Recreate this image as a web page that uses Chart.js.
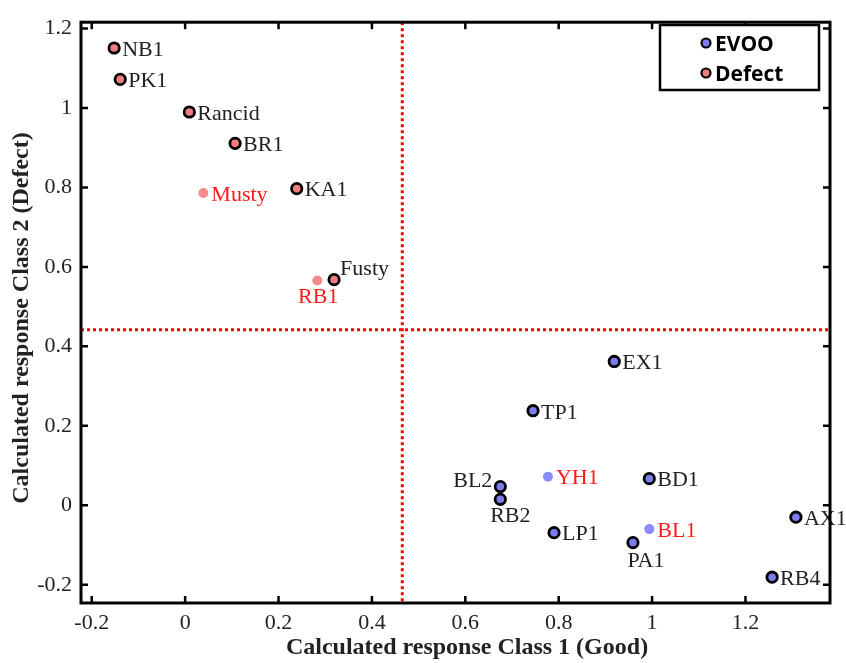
<!DOCTYPE html>
<html>
<head>
<meta charset="utf-8">
<script src="https://cdn.jsdelivr.net/npm/chart.js@4"></script>
<style>
  html, body { margin: 0; padding: 0; background: #ffffff; }
  #wrap { width: 846px; height: 663px; }
</style>
</head>
<body>
<div id="wrap"><canvas id="c" width="846" height="663"></canvas></div>
<script>
// ---- data ----
const evooNames   = ['EX1', 'TP1', 'BL2', 'RB2', 'YH1', 'BD1', 'LP1', 'BL1', 'PA1', 'AX1', 'RB4'];
const evooX       = [0.919, 0.745, 0.675, 0.675, 0.777, 0.994, 0.790, 0.994, 0.959, 1.308, 1.257];
const evooY       = [0.362, 0.238, 0.047, 0.015, 0.072, 0.067, -0.069, -0.060, -0.094, -0.030, -0.181];
const evooCorrect = [true, true, true, true, false, true, true, false, true, true, true];

const defectNames   = ['NB1', 'PK1', 'Rancid', 'BR1', 'Musty', 'KA1', 'RB1', 'Fusty'];
const defectX       = [-0.152, -0.139, 0.009, 0.107, 0.039, 0.239, 0.283, 0.319];
const defectY       = [1.151, 1.072, 0.990, 0.911, 0.786, 0.797, 0.566, 0.568];
const defectCorrect = [true, true, true, true, false, true, false, true];

const thresholdX = 0.465;
const thresholdY = 0.442;

const xTicks = [-0.2, 0, 0.2, 0.4, 0.6, 0.8, 1, 1.2];
const yTicks = [-0.2, 0, 0.2, 0.4, 0.6, 0.8, 1, 1.2];

const xTitle = 'Calculated response Class 1 (Good)';
const yTitle = 'Calculated response Class 2 (Defect)';
const legendLabels = ['EVOO', 'Defect'];

// ---- styles ----
const SERIF = '"Liberation Serif", "Times New Roman", serif';
const EVOO_FILL = '#7d7df2', EVOO_FILL_MIS = '#8c8cff';
const DEF_FILL = '#f27d7d', DEF_FILL_MIS = '#f88a8a';
const LABEL_COLOR = '#222222', MIS_COLOR = '#ff1a1a';

// label placement: [align, dx, dy]
const labelPlace = {
  'BL2':   ['right', -8, -5],
  'RB2':   ['center', 10, 17],
  'PA1':   ['center', 13, 19],
  'Fusty': ['left', 6, -10],
  'RB1':   ['center', 1, 17]
};

function toPoints(xs, ys) { return xs.map((x, i) => ({ x: x, y: ys[i] })); }

const datasets = [
  {
    label: legendLabels[0],
    data: toPoints(evooX, evooY),
    names: evooNames,
    correct: evooCorrect,
    backgroundColor: ctx => evooCorrect[ctx.dataIndex] ? EVOO_FILL : EVOO_FILL_MIS,
    borderColor: '#000000',
    borderWidth: ctx => evooCorrect[ctx.dataIndex] ? 2.8 : 0,
    pointRadius: ctx => evooCorrect[ctx.dataIndex] ? 5.2 : 5,
    pointHoverRadius: 5
  },
  {
    label: legendLabels[1],
    data: toPoints(defectX, defectY),
    names: defectNames,
    correct: defectCorrect,
    backgroundColor: ctx => defectCorrect[ctx.dataIndex] ? DEF_FILL : DEF_FILL_MIS,
    borderColor: '#000000',
    borderWidth: ctx => defectCorrect[ctx.dataIndex] ? 2.8 : 0,
    pointRadius: ctx => defectCorrect[ctx.dataIndex] ? 5.2 : 5,
    pointHoverRadius: 5
  }
];

const decorPlugin = {
  id: 'decor',
  beforeDatasetsDraw(chart) {
    const { ctx, chartArea: a, scales: { x, y } } = chart;
    ctx.save();
    // threshold dashed lines
    ctx.strokeStyle = '#ff0000';
    ctx.lineWidth = 3;
    ctx.setLineDash([3, 3]);
    const px = x.getPixelForValue(thresholdX);
    const py = y.getPixelForValue(thresholdY);
    ctx.beginPath();
    ctx.moveTo(px, a.top); ctx.lineTo(px, a.bottom);
    ctx.moveTo(a.left, py); ctx.lineTo(a.right, py);
    ctx.stroke();
    ctx.restore();
  },
  afterDatasetsDraw(chart) {
    const { ctx, chartArea: a, scales: { x, y } } = chart;
    ctx.save();
    // point labels
    ctx.font = '22px ' + SERIF;
    chart.data.datasets.forEach((ds, di) => {
      const meta = chart.getDatasetMeta(di);
      meta.data.forEach((el, i) => {
        const name = ds.names[i];
        const p = labelPlace[name] || ['left', 8, 2];
        ctx.textAlign = p[0];
        ctx.textBaseline = 'middle';
        ctx.fillStyle = ds.correct[i] ? LABEL_COLOR : MIS_COLOR;
        ctx.fillText(name, el.x + p[1], el.y + p[2]);
      });
    });
    // frame
    ctx.strokeStyle = '#000000';
    ctx.lineWidth = 3;
    ctx.setLineDash([]);
    ctx.strokeRect(a.left, a.top, a.right - a.left, a.bottom - a.top);
    // inward ticks on all sides
    ctx.lineWidth = 2.5;
    const tl = 7;
    ctx.beginPath();
    xTicks.forEach(v => {
      const p = x.getPixelForValue(v);
      ctx.moveTo(p, a.bottom); ctx.lineTo(p, a.bottom - tl);
      ctx.moveTo(p, a.top); ctx.lineTo(p, a.top + tl);
    });
    yTicks.forEach(v => {
      const p = y.getPixelForValue(v);
      ctx.moveTo(a.left, p); ctx.lineTo(a.left + tl, p);
      ctx.moveTo(a.right, p); ctx.lineTo(a.right - tl, p);
    });
    ctx.stroke();
    // legend box
    const lx = 660, ly = 25, lw = 159, lh = 65;
    ctx.fillStyle = '#ffffff';
    ctx.fillRect(lx, ly, lw, lh);
    ctx.lineWidth = 2.5;
    ctx.strokeRect(lx, ly, lw, lh);
    const fills = [EVOO_FILL, DEF_FILL];
    ctx.font = 'bold 21px "Open Sans", "DejaVu Sans", sans-serif';
    ctx.textAlign = 'left';
    ctx.textBaseline = 'middle';
    legendLabels.forEach((lab, i) => {
      const cy = ly + 18 + i * 30;
      ctx.beginPath();
      ctx.arc(lx + 46, cy, 4.5, 0, Math.PI * 2);
      ctx.fillStyle = fills[i];
      ctx.fill();
      ctx.lineWidth = 2.2;
      ctx.strokeStyle = '#000';
      ctx.stroke();
      ctx.fillStyle = '#000';
      ctx.fillText(lab, lx + 55, cy + 2);
    });
    // axis titles
    ctx.fillStyle = '#222222';
    ctx.font = 'bold 24px ' + SERIF;
    ctx.textAlign = 'center';
    ctx.textBaseline = 'middle';
    ctx.fillText(xTitle, 467, 648);
    ctx.save();
    ctx.translate(22, 318);
    ctx.rotate(-Math.PI / 2);
    ctx.fillText(yTitle, 0, 0);
    ctx.restore();
    ctx.restore();
  }
};

const fmt = v => String(Math.round(v * 10) / 10);

new Chart(document.getElementById('c'), {
  type: 'scatter',
  data: { datasets: datasets },
  options: {
    responsive: false,
    animation: false,
    events: [],
    layout: { padding: { left: 0, top: 14, right: 16, bottom: 0 } },
    plugins: { legend: { display: false }, tooltip: { enabled: false } },
    scales: {
      x: {
        type: 'linear',
        min: -0.223, max: 1.381,
        afterBuildTicks: s => { s.ticks = xTicks.map(v => ({ value: v })); },
        afterFit: s => { s.height = 60; },
        grid: { display: false, drawTicks: false },
        border: { display: false },
        ticks: { callback: fmt, padding: 7, color: '#222222', font: { family: SERIF, size: 22 }, maxRotation: 0 }
      },
      y: {
        type: 'linear',
        min: -0.246, max: 1.216,
        afterBuildTicks: s => { s.ticks = yTicks.map(v => ({ value: v })); },
        afterFit: s => { s.width = 81; },
        grid: { display: false, drawTicks: false },
        border: { display: false },
        ticks: { callback: fmt, padding: 9, color: '#222222', font: { family: SERIF, size: 22 } }
      }
    }
  },
  plugins: [decorPlugin]
});
</script>
</body>
</html>
